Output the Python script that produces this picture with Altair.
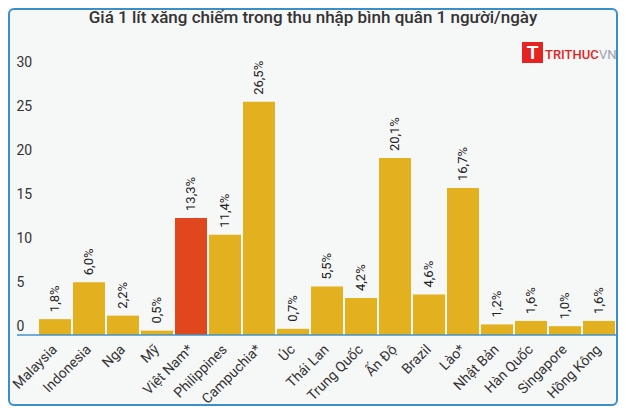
import altair as alt
import pandas as pd

# ---- data ----
categories = ["Malaysia", "Indonesia", "Nga", "Mỹ", "Việt Nam*", "Philippines",
              "Campuchia*", "Úc", "Thái Lan", "Trung Quốc", "Ấn Độ", "Brazil",
              "Lào*", "Nhật Bản", "Hàn Quốc", "Singapore", "Hồng Kông"]
values = [1.8, 6.0, 2.2, 0.5, 13.3, 11.4, 26.5, 0.7, 5.5, 4.2, 20.1, 4.6,
          16.7, 1.2, 1.6, 1.0, 1.6]
value_labels = ["1,8%", "6,0%", "2,2%", "0,5%", "13,3%", "11,4%", "26,5%", "0,7%",
                "5,5%", "4,2%", "20,1%", "4,6%", "16,7%", "1,2%", "1,6%", "1,0%", "1,6%"]
highlight = ["Việt Nam*"]
y_ticks = [0, 5, 10, 15, 20, 25, 30]
title_text = "Giá 1 lít xăng chiếm trong thu nhập bình quân 1 người/ngày"

df = pd.DataFrame({"country": categories, "value": values, "label": value_labels})
df["hl"] = ["y" if c in highlight else "n" for c in categories]

W, H = 578, 264
PAD = {"left": 30, "top": 63, "right": 2, "bottom": 71}
FONT = "Roboto"

x = alt.X("country:N", sort=categories,
          scale=alt.Scale(paddingInner=2 / 34, paddingOuter=1 / 34),
          axis=alt.Axis(title=None, labelAngle=-45, labelAlign="right",
                        labelBaseline="middle", labelPadding=12, ticks=False,
                        domain=False, labelFont=FONT, labelFontSize=14,
                        labelColor="#333333"))
y = alt.Y("value:Q", scale=alt.Scale(domain=[0, 30], nice=False),
          axis=alt.Axis(title=None, values=y_ticks, grid=False, ticks=False,
                        domain=False, labelAlign="left", labelPadding=22,
                        labelBaseline="alphabetic", labelOffset=-5,
                        labelFont=FONT, labelFontSize=14, labelColor="#333333"))

bars = alt.Chart(df).mark_bar().encode(
    x=x, y=y,
    color=alt.Color("hl:N", scale=alt.Scale(domain=["n", "y"],
                                            range=["#E3B01F", "#E0471E"]),
                    legend=None),
)

texts = alt.Chart(df).mark_text(angle=270, align="left", baseline="middle", dx=7,
                                font=FONT, fontSize=13, color="#222222").encode(
    x=x, y=y, text="label:N")

one = pd.DataFrame({"a": [0]})

baseline = alt.Chart(one).mark_rule(color="#3f93c9", strokeWidth=1.5).encode(
    x=alt.value(-21), x2=alt.value(582), y=alt.value(H))

frame = alt.Chart(one).mark_rect(fillOpacity=0, stroke="#3a8fc8", strokeWidth=2,
                                 cornerRadius=5).encode(
    x=alt.value(-29), x2=alt.value(579), y=alt.value(-62), y2=alt.value(334))

title = alt.Chart(pd.DataFrame({"t": [title_text]})).mark_text(
    font=FONT, fontSize=17, fontWeight=500, color="#333333",
    align="center", baseline="alphabetic").encode(
    x=alt.value(275), y=alt.value(-48), text="t:N")

logo_box = alt.Chart(one).mark_rect(color="#E52421").encode(
    x=alt.value(484), x2=alt.value(505), y=alt.value(-29), y2=alt.value(-8))
logo_icon = alt.Chart(pd.DataFrame({"t": ["T"]})).mark_text(
    font="Liberation Sans", fontSize=19, fontWeight="bold", color="#ffffff",
    align="center", baseline="middle").encode(
    x=alt.value(494.5), y=alt.value(-18), text="t:N")
logo_text = alt.Chart(pd.DataFrame({"t": ["TRITHUC"]})).mark_text(
    font=FONT, fontSize=13, fontWeight=500, color="#E52421",
    align="left", baseline="alphabetic").encode(
    x=alt.value(507), y=alt.value(-12), text="t:N")
logo_vn = alt.Chart(pd.DataFrame({"t": ["VN"]})).mark_text(
    font=FONT, fontSize=13, color="#9aa3ad",
    align="left", baseline="alphabetic").encode(
    x=alt.value(561), y=alt.value(-12), text="t:N")

chart = alt.layer(frame, bars, texts, baseline, title, logo_box, logo_icon,
                  logo_text, logo_vn).properties(
    width=W, height=H,
    autosize=alt.AutoSizeParams(type="none"),
    padding=PAD,
    background="#f6f7f7",
).configure_view(strokeWidth=0)

chart.save("out.html", embed_options={"renderer": "svg", "actions": False})
